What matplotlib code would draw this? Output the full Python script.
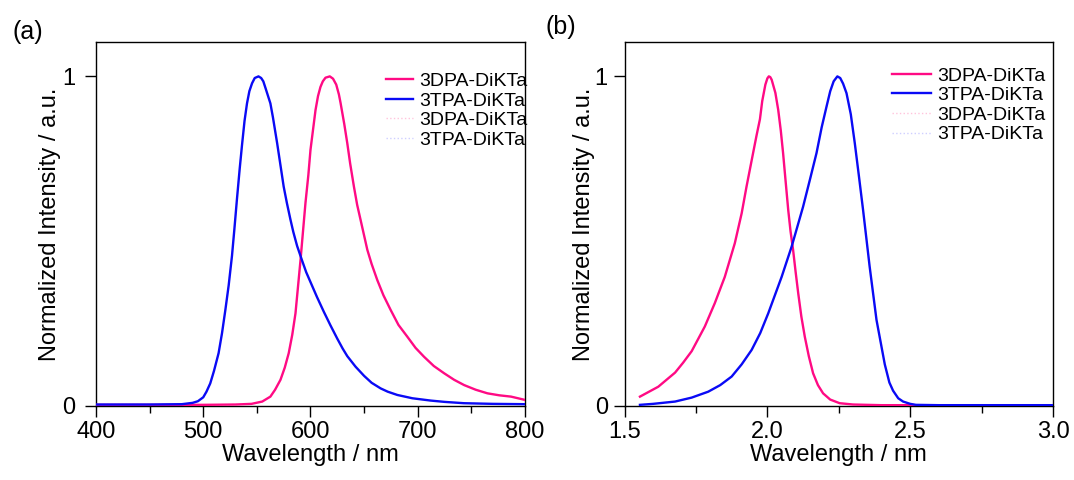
import matplotlib.pyplot as plt
from matplotlib.ticker import MultipleLocator

plt.rcParams['font.family'] = ['Liberation Sans', 'DejaVu Sans']

# (a) 파장 기준 스펙트럼
wl_dpa = [400, 450, 500, 530, 545, 555, 562.6, 567, 572, 576, 579.7, 583, 586, 590.7, 595.3,
          598, 600, 604.7, 607, 609.3, 611.5, 614, 618, 621, 624, 626.5, 628, 631.5, 634.3,
          637, 640.5, 643.5, 646.7, 653, 657, 662.3, 668, 674.8, 682, 690.3, 698, 705.9,
          715, 724.6, 734, 743.3, 754, 765, 776, 787, 800]
pl_dpa = [0.002, 0.002, 0.002, 0.003, 0.005, 0.012, 0.027, 0.048, 0.078, 0.115, 0.159, 0.215, 0.28, 0.442, 0.615,
          0.70, 0.777, 0.898, 0.94, 0.968, 0.985, 0.996, 1.0, 0.993, 0.975, 0.945, 0.92, 0.855, 0.797,
          0.735, 0.665, 0.61, 0.564, 0.473, 0.43, 0.381, 0.335, 0.29, 0.245, 0.209, 0.175, 0.148,
          0.12, 0.098, 0.078, 0.062, 0.048, 0.037, 0.031, 0.027, 0.017]

wl_tpa = [400, 450, 480, 490, 495, 500, 503, 506.5, 510, 514.3, 517.5, 520.6, 523.7, 526.8, 529,
          531.5, 534, 536.1, 538.5, 540.8, 543, 545.5, 548, 551.5, 554, 556, 558, 562.6, 565,
          568.9, 572, 575, 578, 581.3, 584, 587.5, 592.2, 596, 600, 606, 612.4, 618.7, 625,
          630, 634.3, 642, 650, 657, 665.4, 672, 681, 695, 712, 725, 743, 770, 800]
pl_tpa = [0.003, 0.003, 0.004, 0.008, 0.013, 0.025, 0.042, 0.067, 0.105, 0.159, 0.22, 0.29, 0.365, 0.455, 0.535,
          0.63, 0.72, 0.79, 0.865, 0.918, 0.955, 0.979, 0.995, 1.0, 0.995, 0.985, 0.965, 0.918, 0.875,
          0.797, 0.73, 0.665, 0.615, 0.565, 0.527, 0.485, 0.44, 0.405, 0.375, 0.33, 0.285, 0.243, 0.203,
          0.173, 0.15, 0.118, 0.09, 0.069, 0.052, 0.042, 0.032, 0.022, 0.015, 0.011, 0.007, 0.005, 0.004]

# (b) 에너지 기준 스펙트럼
ev_dpa = [1.554, 1.618, 1.677, 1.705, 1.735, 1.781, 1.816, 1.851, 1.886, 1.91, 1.927, 1.95, 1.962,
          1.974, 1.982, 1.993, 2.0, 2.005, 2.01, 2.015, 2.028, 2.038, 2.047, 2.055, 2.064, 2.073,
          2.081, 2.09, 2.099, 2.108, 2.119, 2.131, 2.145, 2.16, 2.177, 2.195, 2.22, 2.253, 2.3,
          2.4, 2.6, 3.0]
el_dpa = [0.027, 0.057, 0.1, 0.13, 0.165, 0.24, 0.311, 0.391, 0.493, 0.584, 0.665, 0.767, 0.82,
          0.87, 0.925, 0.975, 0.994, 1.0, 0.998, 0.99, 0.95, 0.898, 0.835, 0.767, 0.68, 0.594,
          0.53, 0.473, 0.405, 0.341, 0.27, 0.209, 0.15, 0.098, 0.062, 0.037, 0.018, 0.007, 0.003,
          0.001, 0.001, 0.001]

ev_tpa = [1.554, 1.6, 1.677, 1.735, 1.793, 1.835, 1.875, 1.91, 1.945, 1.975, 2.003, 2.05, 2.085,
          2.125, 2.15, 2.172, 2.19, 2.207, 2.22, 2.232, 2.245, 2.255, 2.265, 2.277, 2.292, 2.306,
          2.32, 2.335, 2.358, 2.382, 2.411, 2.427, 2.44, 2.458, 2.475, 2.5, 2.52, 2.6, 3.0]
el_tpa = [0.002, 0.005, 0.012, 0.024, 0.042, 0.062, 0.088, 0.125, 0.169, 0.22, 0.28, 0.391, 0.483,
          0.604, 0.69, 0.767, 0.845, 0.908, 0.955, 0.985, 1.0, 0.995, 0.978, 0.949, 0.885, 0.797,
          0.70, 0.594, 0.422, 0.26, 0.125, 0.07, 0.045, 0.022, 0.012, 0.005, 0.002, 0.001, 0.001]

names = ['3DPA-DiKTa', '3TPA-DiKTa']
pink = '#ff0a84'
blue = '#0a0af5'
pink_l = '#ffc4dc'
blue_l = '#cfcfff'

fig = plt.figure(figsize=(10.74, 4.8), dpi=100)
ax1 = fig.add_axes([0.0894, 0.1552, 0.3994, 0.7563])
ax2 = fig.add_axes([0.5815, 0.1552, 0.3990, 0.7563])

# ax, x1, y1, x2, y2, xlim, major, minor, handlelength, 범례 위치, 태그, 태그 위치, y tick pad, ylabel pad
panels = [
    (ax1, wl_dpa, pl_dpa, wl_tpa, pl_tpa, (400, 800), 100, 50, 1.4, (1.042, 0.96), '(a)', (0.012, 0.918), 7, 1),
    (ax2, ev_dpa, el_dpa, ev_tpa, el_tpa, (1.5, 3.0), 0.5, 0.25, 2.0, (1.018, 0.975), '(b)', (0.508, 0.93), 4, 0),
]

for ax, x1, y1, x2, y2, xl, major, minor, hl, anchor, tag, tpos, ytp, ypad in panels:
    ax.plot(x1, y1, '-', color=pink, lw=1.7, label=names[0], zorder=3)
    ax.plot(x2, y2, '-', color=blue, lw=1.7, label=names[1], zorder=3)
    ax.plot(x1, y1, ':', color=pink_l, lw=1.0, label=names[0], zorder=1)
    ax.plot(x2, y2, ':', color=blue_l, lw=1.0, label=names[1], zorder=1)

    ax.set_xlim(xl)
    ax.set_ylim(0, 1.103)
    ax.xaxis.set_major_locator(MultipleLocator(major))
    ax.xaxis.set_minor_locator(MultipleLocator(minor))
    ax.set_yticks([0, 1])
    ax.set_yticklabels(['0', '1'])
    if major < 1:
        ax.set_xticklabels(['%.1f' % v for v in ax.get_xticks()])

    ax.tick_params(which='major', direction='out', length=8, width=1, labelsize=17)
    ax.tick_params(which='minor', direction='out', length=5, width=1)
    ax.tick_params(axis='x', pad=3)
    ax.tick_params(axis='y', pad=ytp)
    ax.tick_params(top=False, right=False)
    for s in ax.spines.values():
        s.set_linewidth(1)

    ax.set_xlabel('Wavelength / nm', fontsize=17, labelpad=1)
    ax.set_ylabel('Normalized Intensity / a.u.', fontsize=17, labelpad=ypad)

    ax.legend(loc='upper right', frameon=False, fontsize=14, handlelength=hl,
              labelspacing=0.1, handletextpad=0.3, borderaxespad=0.4,
              bbox_to_anchor=anchor)
    fig.text(tpos[0], tpos[1], tag, fontsize=18)

fig.savefig('out.png', dpi=100)
